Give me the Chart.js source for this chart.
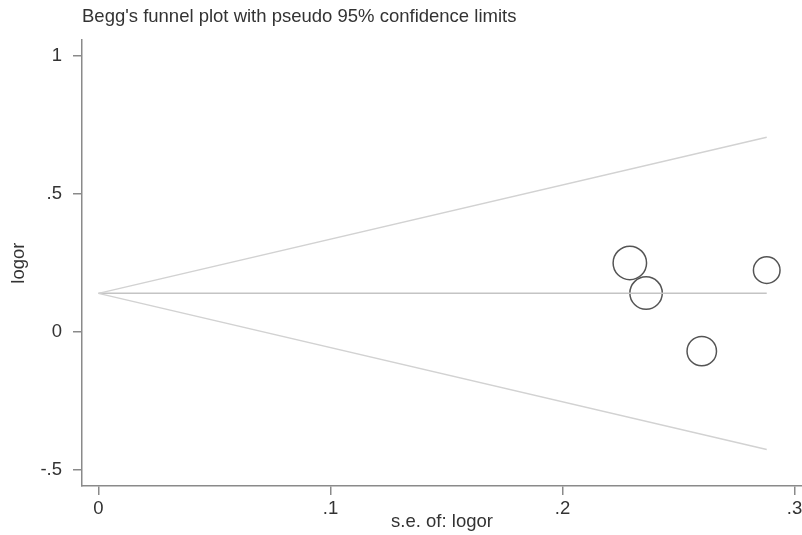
<!DOCTYPE html>
<html>
<head>
<meta charset="utf-8">
<script src="https://cdn.jsdelivr.net/npm/chart.js@4/dist/chart.umd.min.js"></script>
<style>
  html, body { margin: 0; padding: 0; background: #ffffff; }
  #wrap { width: 802px; height: 535px; }
</style>
</head>
<body>
<div id="wrap"><canvas id="c" width="802" height="535"></canvas></div>
<script>
// ---- data ----
const studySe = [0.229, 0.236, 0.260, 0.288];
const studyLogor = [0.250, 0.141, -0.069, 0.224];
const pooledLogor = 0.140;
const funnelSe = [0, 0.288];
const upperLimit = [0.140, 0.705];
const lowerLimit = [0.140, -0.425];
const xTickValues = [0, 0.1, 0.2, 0.3];
const xTickLabels = ['0', '.1', '.2', '.3'];
const yTickValues = [-0.5, 0, 0.5, 1];
const yTickLabels = ['-.5', '0', '.5', '1'];

const FONT = "'Liberation Sans', Arial, sans-serif";
const TEXT = '#333333';
const AXIS = '#8a8a8a';

const points = studySe.map((s, i) => ({ x: s, y: studyLogor[i] }));
const upperPts = funnelSe.map((s, i) => ({ x: s, y: upperLimit[i] }));
const lowerPts = funnelSe.map((s, i) => ({ x: s, y: lowerLimit[i] }));
const centerPts = funnelSe.map(s => ({ x: s, y: pooledLogor }));

function setTicks(values) {
  return scale => { scale.ticks = values.map(v => ({ value: v })); };
}

new Chart(document.getElementById('c'), {
  type: 'scatter',
  data: {
    datasets: [
      { type: 'line', data: upperPts, borderColor: '#d2d2d2', borderWidth: 1.5, pointRadius: 0, fill: false, tension: 0 },
      { type: 'line', data: lowerPts, borderColor: '#d2d2d2', borderWidth: 1.5, pointRadius: 0, fill: false, tension: 0 },
      { type: 'line', data: centerPts, borderColor: '#c4c4c4', borderWidth: 1.5, pointRadius: 0, fill: false, tension: 0 },
      {
        data: points,
        backgroundColor: 'rgba(0,0,0,0)',
        borderColor: '#555555',
        borderWidth: 1.5,
        pointRadius: ctx => 3.83 / ctx.raw.x,
        pointStyle: 'circle'
      }
    ]
  },
  options: {
    responsive: false,
    devicePixelRatio: 1,
    animation: false,
    layout: { padding: 0, autoPadding: false },
    plugins: {
      legend: { display: false },
      tooltip: { enabled: false },
      title: {
        display: true,
        text: "Begg's funnel plot with pseudo 95% confidence limits",
        align: 'start',
        fullSize: false,
        color: TEXT,
        font: { family: FONT, size: 18.5, weight: 'normal' },
        padding: { top: 6, bottom: 12 }
      }
    },
    scales: {
      x: {
        type: 'linear',
        min: -0.0071,
        max: 0.3032,
        afterBuildTicks: setTicks(xTickValues),
        afterFit: s => { s.height = 49; s.paddingLeft = 0; s.paddingRight = 0; },
        ticks: {
          callback: v => xTickLabels[xTickValues.indexOf(v)],
          color: TEXT,
          font: { family: FONT, size: 18.5 },
          padding: 3,
          maxRotation: 0,
          autoSkip: false
        },
        grid: { drawOnChartArea: false, drawTicks: true, tickLength: 9, color: AXIS, lineWidth: 1.5 },
        border: { display: true, color: AXIS, width: 1.5 },
        title: {
          display: true,
          text: 's.e. of: logor',
          color: TEXT,
          font: { family: FONT, size: 18.5 },
          padding: { top: 0, bottom: 2 }
        }
      },
      y: {
        type: 'linear',
        min: -0.557,
        max: 1.056,
        afterBuildTicks: setTicks(yTickValues),
        afterFit: s => { s.width = 82; s.paddingTop = 0; s.paddingBottom = 0; },
        ticks: {
          callback: v => yTickLabels[yTickValues.indexOf(v)],
          color: TEXT,
          font: { family: FONT, size: 18.5 },
          padding: 11,
          autoSkip: false
        },
        grid: { drawOnChartArea: false, drawTicks: true, tickLength: 9, color: AXIS, lineWidth: 1.5 },
        border: { display: true, color: AXIS, width: 1.5 },
        title: {
          display: true,
          text: 'logor',
          color: TEXT,
          font: { family: FONT, size: 18.5 },
          padding: { top: 8, bottom: 0 }
        }
      }
    }
  }
});
</script>
</body>
</html>
